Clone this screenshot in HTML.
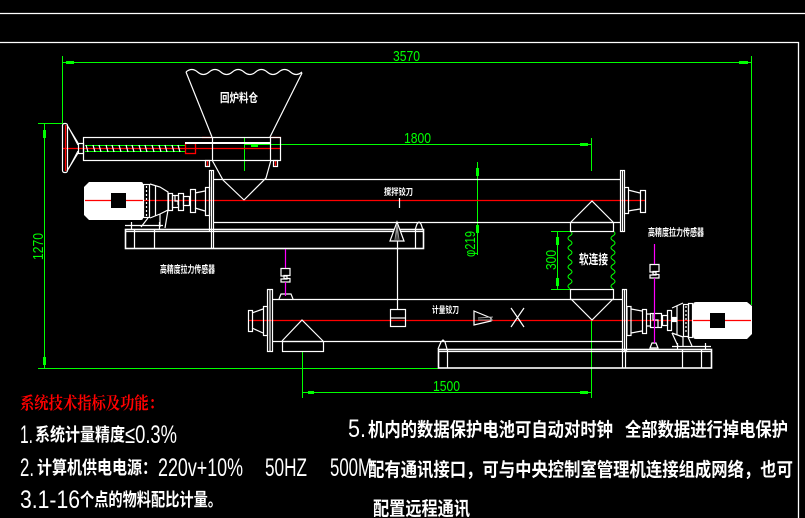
<!DOCTYPE html>
<html><head><meta charset="utf-8">
<style>
html,body{margin:0;padding:0;background:#000;}
svg{display:block;}
.cn{font-family:"Liberation Sans","Noto Sans CJK SC",sans-serif;font-weight:700;fill:#fff;}
.lt{font-family:"Liberation Sans",sans-serif;fill:#fff;}
.dim{font-family:"Liberation Sans",sans-serif;fill:#0f0;font-size:15px;}
</style></head><body>
<svg width="805" height="518" viewBox="0 0 805 518" xmlns="http://www.w3.org/2000/svg">
<rect width="805" height="518" fill="#000"/>

<!-- border -->
<g fill="none" stroke="#fff" stroke-width="1.3">
<line x1="0" y1="13.5" x2="805" y2="13.5"/>
<polyline points="0,42.5 798.5,42.5 798.5,518"/>
</g>

<!-- ===== green dimensions ===== -->
<g fill="none" stroke="#0f0" stroke-width="1">
<line x1="62" y1="62.5" x2="751" y2="62.5"/>
<line x1="62.5" y1="56" x2="62.5" y2="124"/>
<line x1="751.5" y1="56" x2="751.5" y2="305"/>
<line x1="44.5" y1="123" x2="44.5" y2="368"/>
<line x1="38" y1="123.5" x2="66" y2="123.5"/>
<line x1="38" y1="368.5" x2="438" y2="368.5"/>
<line x1="244" y1="144.5" x2="591" y2="144.5"/>
<line x1="244.5" y1="138" x2="244.5" y2="171"/>
<line x1="591.5" y1="138" x2="591.5" y2="171"/>
<line x1="477.5" y1="162" x2="477.5" y2="255"/>
<line x1="460" y1="179.5" x2="483" y2="179.5"/>
<line x1="460" y1="222.5" x2="483" y2="222.5"/>
<line x1="557.5" y1="231" x2="557.5" y2="289"/>
<line x1="551" y1="231.5" x2="573" y2="231.5"/>
<line x1="551" y1="289.5" x2="573" y2="289.5"/>
<line x1="302" y1="392.5" x2="591" y2="392.5"/>
<line x1="302.5" y1="351" x2="302.5" y2="398"/>
<line x1="591.5" y1="320" x2="591.5" y2="398"/>
<!-- bellows -->
<path d="M570,231 q4,2.4 0,4.8 t0,4.8 t0,4.8 t0,4.8 t0,4.8 t0,4.8 t0,4.8 t0,4.8 t0,4.8 t0,4.8 t0,4.8 t0,4.8"/>
<path d="M613,231 q4,2.4 0,4.8 t0,4.8 t0,4.8 t0,4.8 t0,4.8 t0,4.8 t0,4.8 t0,4.8 t0,4.8 t0,4.8 t0,4.8 t0,4.8"/>
<!-- screw lines -->
<line x1="85" y1="145.5" x2="186" y2="145.5"/>
<line x1="85" y1="151.5" x2="186" y2="151.5"/>
</g>
<g fill="#0f0">
<rect x="66" y="61" width="8" height="3"/>
<rect x="739" y="61" width="9" height="3"/>
<rect x="43" y="130" width="3" height="8"/>
<rect x="43" y="357" width="3" height="8"/>
<rect x="251" y="144" width="7" height="3"/>
<rect x="580" y="143" width="8" height="3"/>
<rect x="476" y="168" width="3" height="8"/>
<rect x="476" y="225" width="3" height="8"/>
<rect x="556" y="237" width="3" height="8"/>
<rect x="556" y="278" width="3" height="8"/>
<rect x="308" y="391" width="6" height="3"/>
<rect x="580" y="391" width="8" height="3"/>
</g>
<text class="dim" x="393" y="61" textLength="27" lengthAdjust="spacingAndGlyphs">3570</text>
<text class="dim" x="404" y="143" textLength="27" lengthAdjust="spacingAndGlyphs">1800</text>
<text class="dim" x="433" y="391" textLength="27" lengthAdjust="spacingAndGlyphs">1500</text>
<text class="dim" transform="translate(43,260) rotate(-90)" x="0" y="0" textLength="27" lengthAdjust="spacingAndGlyphs">1270</text>
<text class="dim" transform="translate(475,257) rotate(-90)" x="0" y="0" textLength="26" lengthAdjust="spacingAndGlyphs">φ219</text>
<text class="dim" transform="translate(556,270) rotate(-90)" x="0" y="0" textLength="20" lengthAdjust="spacingAndGlyphs">300</text>

<!-- ===== red centerlines ===== -->
<g stroke="#f00" stroke-width="1.3" fill="none">
<line x1="62" y1="148.5" x2="281" y2="148.5"/>
<line x1="85" y1="200.5" x2="645" y2="200.5"/>
<line x1="248" y1="320.5" x2="751" y2="320.5"/>
<line x1="65.5" y1="125" x2="65.5" y2="171"/>
<line x1="202" y1="137.5" x2="212" y2="137.5"/>
<line x1="271" y1="137.5" x2="281" y2="137.5"/>
<rect x="185.5" y="143.5" width="10" height="10"/>
<line x1="207.5" y1="161" x2="207.5" y2="166"/>
<line x1="275.5" y1="161" x2="275.5" y2="166"/>
</g>

<!-- ===== motors (white filled) ===== -->
<path d="M89,182 L141,182 Q143,182 143,184 L143,218 Q143,220 141,220 L89,220 L84,215 L84,187 Z" fill="#fff"/>
<rect x="111" y="193" width="15" height="15" fill="#000"/>
<path d="M696,302 L747,302 L752,306 L752,334 L747,339 L696,339 Q693,339 693,336 L693,305 Q693,302 696,302 Z" fill="#fff"/>
<rect x="710" y="313" width="15" height="15" fill="#000"/>
<line x1="85" y1="200.5" x2="111" y2="200.5" stroke="#f00" stroke-width="1.3"/>
<line x1="126" y1="200.5" x2="143" y2="200.5" stroke="#f00" stroke-width="1.3"/>
<line x1="693" y1="320.5" x2="710" y2="320.5" stroke="#f00" stroke-width="1.3"/>
<line x1="725" y1="320.5" x2="751" y2="320.5" stroke="#f00" stroke-width="1.3"/>

<!-- ===== white drawing ===== -->
<g fill="none" stroke="#fff" stroke-width="1.2">
<!-- upper screw feeder -->
<rect x="62.5" y="123.5" width="5" height="49" rx="2"/>
<path d="M67,125 L78,143 M67,171 L78,153 M69,128 L78,145 M69,168 L78,151"/>
<rect x="78.5" y="143.5" width="5" height="10"/>
<rect x="83.5" y="137.5" width="197" height="23"/>
<line x1="212.5" y1="137" x2="212.5" y2="160"/>
<line x1="270.5" y1="137" x2="270.5" y2="160"/>
<path d="M86,145l2,7 M93,145l2,7 M99,145l2,7 M106,145l2,7 M112,145l2,7 M119,145l2,7 M126,145l2,7 M132,145l2,7 M139,145l2,7 M145,145l2,7 M152,145l2,7 M159,145l2,7 M165,145l2,7 M172,145l2,7 M178,145l2,7"/>
<rect x="205.5" y="160.5" width="4" height="6"/>
<rect x="273.5" y="160.5" width="4" height="6"/>
<!-- hopper -->
<path d="M186,72 q5.8,-5 11.6,0 t11.6,0 t11.6,0 t11.6,0 t11.6,0 t11.6,0 t11.6,0 t11.6,0 t11.6,0 t11.6,0"/>
<path d="M186,72 L212,137 M302,73 L270,137 M212,160 L223,180 L244,200 M271,160 L266,178 L244,200"/>

<!-- upper conveyor -->
<line x1="213" y1="179.5" x2="620" y2="179.5"/>
<line x1="213" y1="222.5" x2="620" y2="222.5"/>
<line x1="209.5" y1="170" x2="209.5" y2="231"/>
<line x1="211.5" y1="170" x2="211.5" y2="249"/>
<line x1="213.5" y1="170" x2="213.5" y2="249"/>
<line x1="209" y1="170.5" x2="214" y2="170.5"/>
<rect x="620.5" y="170.5" width="4" height="61"/>
<line x1="622.5" y1="171" x2="622.5" y2="231"/>
<rect x="624.5" y="187.5" width="4" height="26"/>
<path d="M628,190 L640,193 M628,211 L640,209"/>
<rect x="640.5" y="190.5" width="5" height="22"/>
<!-- upper left motor gear -->
<rect x="143.5" y="184.5" width="6" height="33"/>
<path d="M146.5,186v2 M146.5,190v2 M146.5,194v2 M146.5,198v2 M146.5,202v2 M146.5,206v2 M146.5,210v2 M146.5,214v2"/>
<path d="M150,184 L160,187 L168,192 L168,210 L160,214 L150,218"/>
<line x1="155.5" y1="186" x2="155.5" y2="216"/>
<rect x="168.5" y="193.5" width="4" height="17"/>
<rect x="172.5" y="195.5" width="6" height="12"/>
<path d="M175,196 v5 h3 v4"/>
<rect x="178.5" y="193.5" width="5" height="17"/>
<rect x="183.5" y="196.5" width="6" height="9"/>
<rect x="190.5" y="189.5" width="5" height="23"/>
<path d="M195,193 L205,191 M195,208 L205,211"/>
<rect x="205.5" y="187.5" width="4" height="28"/>
<path d="M148,218 L141,227 M168,210 L165,228 M160,214 L160,227"/>
<line x1="125" y1="225.5" x2="163" y2="225.5"/>
<line x1="131.5" y1="222" x2="131.5" y2="229"/>
<line x1="159.5" y1="222" x2="159.5" y2="229"/>
<!-- upper base -->
<rect x="125.5" y="229.5" width="298" height="19" stroke-width="1.6"/>
<line x1="125" y1="231.5" x2="424" y2="231.5"/>
<line x1="134.5" y1="229" x2="134.5" y2="249"/>
<line x1="154.5" y1="229" x2="154.5" y2="249"/>
<line x1="415.5" y1="229" x2="415.5" y2="249"/>
<path d="M415,230 L417,224 L419,222 L421,224 L423,230"/>
<!-- vertical link -->
<line x1="397.5" y1="241" x2="397.5" y2="309"/>
<line x1="399.5" y1="198" x2="399.5" y2="208"/>

<!-- connector hopper -->
<path d="M571,222 L592,201 L613,222"/>
<rect x="570.5" y="222.5" width="43" height="9"/>
<rect x="570.5" y="289.5" width="43" height="10"/>
<path d="M571,299 L592,320 L613,299"/>

<!-- lower conveyor -->
<line x1="272" y1="299.5" x2="622" y2="299.5"/>
<line x1="272" y1="341.5" x2="622" y2="341.5"/>
<rect x="267.5" y="289.5" width="5" height="62"/>
<line x1="270" y1="290" x2="270" y2="351"/>
<rect x="263.5" y="306.5" width="4" height="29"/>
<path d="M263,309 L252,313 M263,333 L252,328"/>
<rect x="248.5" y="310.5" width="4" height="21"/>
<path d="M282,341 L302,320 L323,341"/>
<rect x="282.5" y="341.5" width="41" height="10"/>
<rect x="390.5" y="309.5" width="15" height="17"/>
<line x1="390" y1="318" x2="406" y2="318"/>
<path d="M474,311 L491,318 L491,321 L474,325 Z"/>
<path d="M511,308 Q518,318 524,327 M524,308 Q517,318 511,327"/>
<rect x="622.5" y="289.5" width="4" height="62"/>
<line x1="624.5" y1="290" x2="624.5" y2="351"/>
<rect x="627" y="306.5" width="4" height="29"/>
<path d="M631,309 L642,311 M631,333 L642,331"/>
<rect x="642.5" y="309.5" width="4" height="24"/>
<path d="M646,314 H650 M646,326 H650"/>
<rect x="650.5" y="313.5" width="11" height="14"/>
<path d="M653,314 v6 h5 v7"/>
<rect x="662.5" y="315.5" width="5" height="10"/>
<rect x="667.5" y="310.5" width="4" height="20"/>
<path d="M672,308 L683,303 M672,333 L683,337 M677,306 L677,335"/>
<rect x="683.5" y="304.5" width="5" height="32"/>
<path d="M686,306v2 M686,310v2 M686,314v2 M686,318v2 M686,322v2 M686,326v2 M686,330v2"/>
<rect x="688.5" y="303.5" width="4" height="34"/>
<rect x="672.5" y="317.5" width="4" height="4" fill="#fff"/>
<path d="M672,333 L678,346 M688,337 L692,346 M683,337 L683,346"/>
<!-- right base -->
<rect x="438.5" y="349.5" width="273" height="18.5" stroke-width="1.6"/>
<line x1="438" y1="351.5" x2="712" y2="351.5"/>
<line x1="447.5" y1="349" x2="447.5" y2="368"/>
<line x1="622.5" y1="349" x2="622.5" y2="368"/>
<line x1="625.5" y1="349" x2="625.5" y2="368"/>
<line x1="682.5" y1="349" x2="682.5" y2="368"/>
<line x1="701.5" y1="349" x2="701.5" y2="368"/>
<line x1="672" y1="346.5" x2="711" y2="346.5"/>
<line x1="677.5" y1="343" x2="677.5" y2="350"/>
<line x1="705.5" y1="343" x2="705.5" y2="350"/>
<path d="M438,349 L441,342 L443,340 L445,342 L447,349"/>

<!-- hooks -->
<path d="M281,268.5 H290 V275.5 H284 V278.5 H290 V282 H281 V279 H287 V276 H281 Z"/>
<path d="M279,299 L281,294 L291,294 L293,299"/>
<path d="M650,264.5 H659 V271.5 H653 V274.5 H659 V278 H650 V275 H656 V272 H650 Z"/>
<path d="M650,348 L652,343 L656,343 L658,348 Z"/>
</g>

<!-- filled/gray details -->
<path d="M397,222 L404,241 L390,241 Z" fill="#000" stroke="#fff" stroke-width="1.2"/>
<path d="M397,224 L395,240 M397,224 L399,240 M397,224 L397,240" stroke="#999" stroke-width="1"/>
<path d="M478,318 L493,317 M478,320 L493,320" stroke="#999" stroke-width="1"/>
<rect x="185" y="142" width="85" height="2" fill="#fff"/>

<!-- magenta -->
<g stroke="#f0f" stroke-width="1.2">
<line x1="285.5" y1="249" x2="285.5" y2="268"/>
<line x1="285.5" y1="282" x2="285.5" y2="296"/>
<line x1="654.5" y1="244" x2="654.5" y2="264"/>
<line x1="654.5" y1="278" x2="654.5" y2="343"/>
</g>

<!-- small labels -->
<text class="cn" x="220" y="102" font-size="12" textLength="38" lengthAdjust="spacingAndGlyphs">回炉料仓</text>
<text class="cn" x="384" y="195" font-size="9" textLength="29" lengthAdjust="spacingAndGlyphs">搅拌铰刀</text>
<text class="cn" x="432" y="313" font-size="9" textLength="27" lengthAdjust="spacingAndGlyphs">计量铰刀</text>
<text class="cn" x="579" y="264" font-size="13" textLength="29" lengthAdjust="spacingAndGlyphs">软连接</text>
<text class="cn" x="160" y="273" font-size="10" textLength="55" lengthAdjust="spacingAndGlyphs">高精度拉力传感器</text>
<text class="cn" x="648" y="236" font-size="10" textLength="56" lengthAdjust="spacingAndGlyphs">高精度拉力传感器</text>

<!-- bottom text -->
<text x="20" y="409" font-family="'Liberation Serif','Noto Serif CJK SC',serif" font-weight="700" font-size="17" fill="#f00" textLength="143" lengthAdjust="spacingAndGlyphs">系统技术指标及功能：</text>

<text class="lt" x="20" y="443" font-size="25" textLength="13" lengthAdjust="spacingAndGlyphs">1.</text>
<text class="cn" x="35" y="441" font-size="18" textLength="90" lengthAdjust="spacingAndGlyphs">系统计量精度</text>
<text class="lt" x="125" y="443" font-size="25" textLength="52" lengthAdjust="spacingAndGlyphs">≤0.3%</text>

<text class="lt" x="20" y="476" font-size="25" textLength="14" lengthAdjust="spacingAndGlyphs">2.</text>
<text class="cn" x="37" y="474" font-size="18" textLength="120" lengthAdjust="spacingAndGlyphs">计算机供电电源：</text>
<text class="lt" x="158" y="476" font-size="25" textLength="85" lengthAdjust="spacingAndGlyphs">220v+10%</text>
<text class="lt" x="265" y="476" font-size="25" textLength="42" lengthAdjust="spacingAndGlyphs">50HZ</text>
<text class="lt" x="330" y="476" font-size="25" textLength="42" lengthAdjust="spacingAndGlyphs">500M</text>

<text class="lt" x="20" y="508" font-size="25" textLength="60" lengthAdjust="spacingAndGlyphs">3.1-16</text>
<text class="cn" x="80" y="506" font-size="18" textLength="142" lengthAdjust="spacingAndGlyphs">个点的物料配比计量。</text>

<text class="lt" x="348" y="437" font-size="25" textLength="18" lengthAdjust="spacingAndGlyphs">5.</text>
<text class="cn" x="368" y="436" font-size="19" textLength="245" lengthAdjust="spacingAndGlyphs">机内的数据保护电池可自动对时钟</text>
<text class="cn" x="625" y="436" font-size="19" textLength="163" lengthAdjust="spacingAndGlyphs">全部数据进行掉电保护</text>
<text class="cn" x="368" y="476" font-size="19" textLength="425" lengthAdjust="spacingAndGlyphs">配有通讯接口，可与中央控制室管理机连接组成网络，也可</text>
<text class="cn" x="373" y="515" font-size="19" textLength="97" lengthAdjust="spacingAndGlyphs">配置远程通讯</text>
</svg>
</body></html>
